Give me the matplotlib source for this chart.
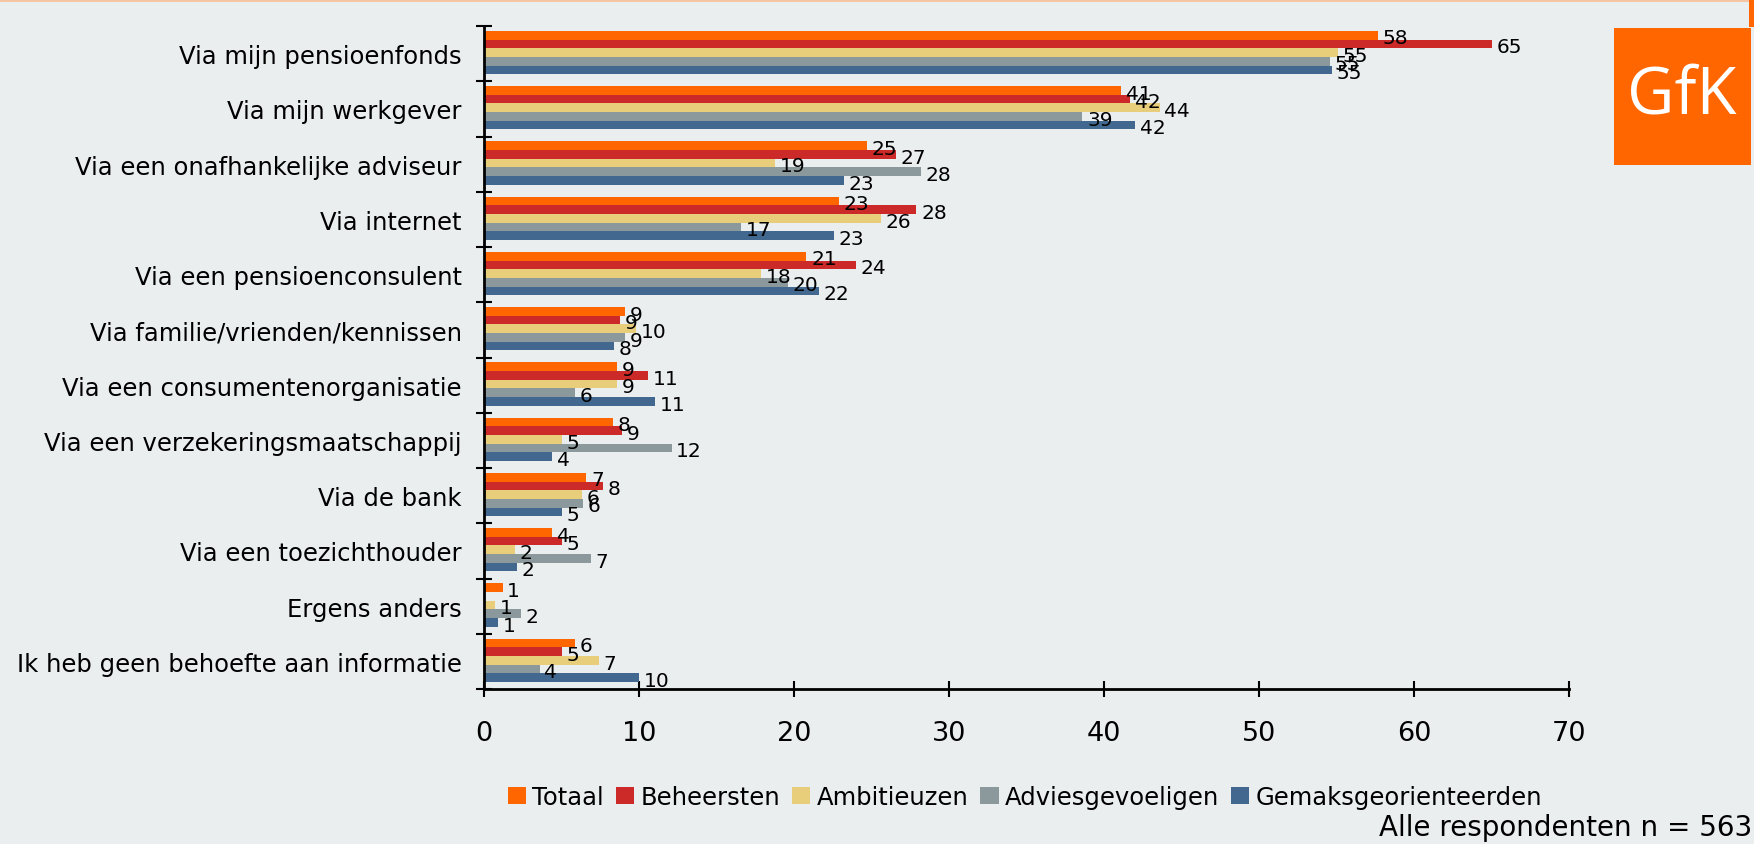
import matplotlib
matplotlib.use("Agg")
import matplotlib.pyplot as plt
import numpy as np
from matplotlib.patches import Patch, Rectangle

categories = [
    "Via mijn pensioenfonds",
    "Via mijn werkgever",
    "Via een onafhankelijke adviseur",
    "Via internet",
    "Via een pensioenconsulent",
    "Via familie/vrienden/kennissen",
    "Via een consumentenorganisatie",
    "Via een verzekeringsmaatschappij",
    "Via de bank",
    "Via een toezichthouder",
    "Ergens anders",
    "Ik heb geen behoefte aan informatie",
]
series = ["Totaal", "Beheersten", "Ambitieuzen", "Adviesgevoeligen", "Gemaksgeorienteerden"]

totaal = [57.7, 41.1, 24.7, 22.9, 20.8, 9.1, 8.6, 8.35, 6.6, 4.4, 1.2, 5.9]
beheersten = [65.0, 41.7, 26.6, 27.9, 24.0, 8.8, 10.6, 8.9, 7.7, 5.0, 0.0, 5.0]
ambitieuzen = [55.1, 43.6, 18.8, 25.6, 17.9, 9.8, 8.6, 5.0, 6.3, 2.0, 0.7, 7.4]
adviesgevoeligen = [54.6, 38.6, 28.2, 16.6, 19.6, 9.1, 5.9, 12.1, 6.4, 6.9, 2.4, 3.6]
gemaks = [54.7, 42.0, 23.2, 22.6, 21.6, 8.4, 11.05, 4.4, 5.0, 2.1, 0.9, 10.0]

values = [totaal, beheersten, ambitieuzen, adviesgevoeligen, gemaks]
colors = ["#FF6600", "#CC2929", "#E8CD7A", "#8C999C", "#426890"]
bg = "#EAEEEF"

fig = plt.figure(figsize=(17.54, 8.45), dpi=100, facecolor=bg)
ax = fig.add_axes([484/1754, 1-690/845, (70*15.5)/1754, (690-27)/845])
ax.set_facecolor(bg)

n = len(categories)
h = 0.157
for j, (vals, c) in enumerate(zip(values, colors)):
    ys = np.arange(n) + (j - 2) * h - 0.02
    ax.barh(ys, vals, height=h, color=c, edgecolor="none", zorder=2)
    for y, v in zip(ys, vals):
        if v <= 0:
            continue
        ax.text(v + 0.3, y + 0.05, f"{v:.0f}", va="center", ha="left", fontsize=14.5,
                color="black", zorder=3)

ax.set_ylim(n - 0.5, -0.5)
ax.set_xlim(0, 70)
ax.set_yticks(np.arange(n))
ax.set_yticklabels(categories, fontsize=17.5)
ax.set_yticks(np.arange(n + 1) - 0.5, minor=True)
ax.tick_params(axis="y", which="major", length=0, pad=16)
ax.tick_params(axis="y", which="minor", length=11, width=1.5, direction="inout")
ax.set_xticks(np.arange(0, 71, 10))
ax.tick_params(axis="x", which="major", labelsize=19.5, length=12, width=1.5,
               direction="inout", pad=16)
for s in ["top", "right"]:
    ax.spines[s].set_visible(False)
for s in ["left", "bottom"]:
    ax.spines[s].set_linewidth(2)

handles = [Patch(facecolor=c, edgecolor="none") for c in colors]
fig.legend(handles, series, loc="center", bbox_to_anchor=(1025/1754, 1-798/845), ncol=5,
           frameon=False, fontsize=17.5, handlelength=0.75, handleheight=0.75,
           handletextpad=0.25, columnspacing=0.5)

fig.text(0.999, 1-828/845, "Alle respondenten n = 563", ha="right", va="center", fontsize=20)

# GfK logo
fig.patches.append(Rectangle((1614/1754, 1-166/845), 137/1754, 137/845,
                             transform=fig.transFigure, facecolor="#FF6600", edgecolor="none"))
fig.text(1682/1754, 1-96/845, "GfK", ha="center", va="center", fontsize=47, color="white",
         family="Open Sans")
# frame accents
fig.patches.append(Rectangle((0, 1-3/845), 1, 3/845, transform=fig.transFigure,
                             facecolor="#F6C6A4", edgecolor="none"))
fig.patches.append(Rectangle((1749/1754, 1-28/845), 5/1754, 28/845, transform=fig.transFigure,
                             facecolor="#FF6600", edgecolor="none"))

fig.savefig("out.png", dpi=100, facecolor=bg)
